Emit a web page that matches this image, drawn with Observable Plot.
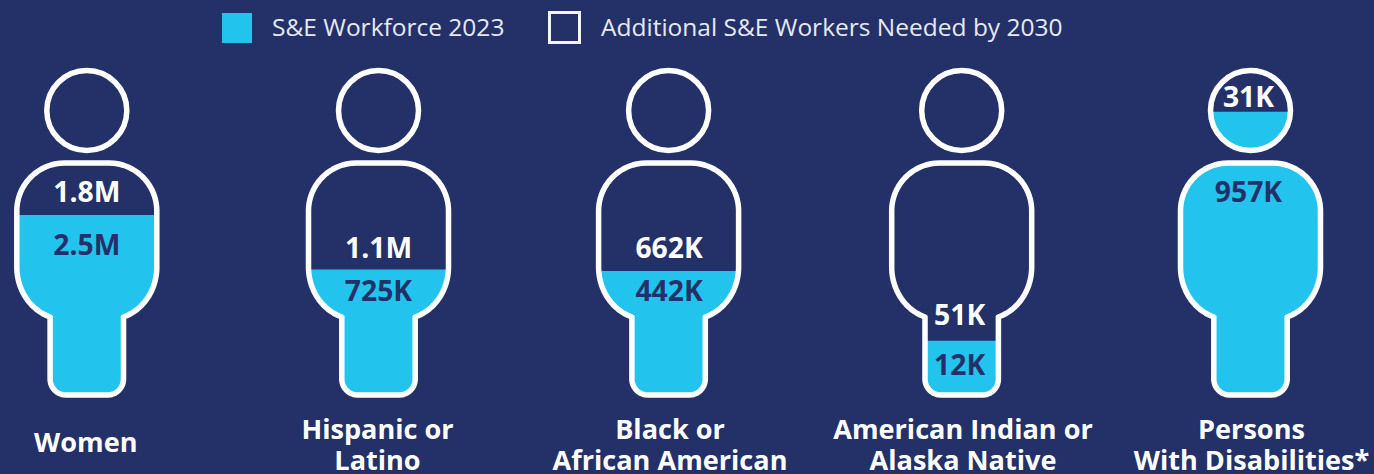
<!DOCTYPE html>
<html><head><meta charset="utf-8">
<script src="https://cdn.jsdelivr.net/npm/d3@7"></script>
<script src="https://cdn.jsdelivr.net/npm/@observablehq/plot@0.6"></script>
<style>
html,body{margin:0;padding:0;background:#243168;width:1374px;height:474px;overflow:hidden}
#legend{position:relative;height:55px;font:400 24.5px "Open Sans",sans-serif;color:#e6e9f1}
#legend .sw{position:absolute;box-sizing:border-box}
#legend .t{position:absolute;top:9px;line-height:36px;white-space:nowrap}
svg{display:block}
</style></head><body>
<div id="legend">
<div class="sw" style="left:222px;top:13px;width:30px;height:30px;background:#22c4ee"></div>
<div class="t" style="left:272px">S&amp;E Workforce 2023</div>
<div class="sw" style="left:548px;top:11px;width:33px;height:33px;border:3.5px solid #f4f5f8"></div>
<div class="t" style="left:601px">Additional S&amp;E Workers Needed by 2030</div>
</div>
<script>
const categories = ["Women","Hispanic or\nLatino","Black or\nAfrican American","American Indian or\nAlaska Native","Persons\nWith Disabilities*"];
const workforceLabels = ["2.5M","725K","442K","12K","957K"];
const additionalLabels = ["1.8M","1.1M","662K","51K","31K"];
// water level of each figure, in figure-height units from the feet
const fillLevel = [179.5,125,123.5,53.8,282.8];

// layout of the pictogram (not data)
const centre = [86.3,378,668.1,961.2,1250];
const valueDx = [0,0,0.5,-2,-2];
const additionalY = [202.5,146.5,146.5,79.5,297];
const workforceY = [149.5,103.5,103,29.5,202];
const categoryY = [-47.5,-50,-50,-50,-50];
const categoryDx = [-1,-1,1.4,1.3,1];
const headY = 284.5, headR = 40, bodyTop = 232;
const navy = "#243168", cyan = "#22c4ee";

function bodyHalf(y){
  if (y < 16) return 20.7 + Math.sqrt(Math.max(0, 256 - (16-y)*(16-y)));
  if (y < 78) return 36.7;
  if (y < 128) return 22 + 48*Math.sqrt(Math.max(0, 1 - ((128-y)/52.5)**2));
  if (y < 184) return 70;
  return 22 + Math.sqrt(Math.max(0, 2304 - (y-184)*(y-184)));
}
const headHalf = y => Math.sqrt(Math.max(0, headR*headR - (y-headY)*(y-headY)));

const outline = centre.flatMap((c,i) => {
  const ys = d3.range(0, bodyTop + 0.01, 0.25);
  const left = ys.map(y => ({i, x:c-bodyHalf(y), y}));
  const right = ys.slice().reverse().map(y => ({i, x:c+bodyHalf(y), y}));
  return [...left, ...right, left[0]];
});
const fills = centre.flatMap((c,i) => {
  const L = fillLevel[i], rows = [];
  const top = Math.min(L, bodyTop);
  for (const y of [...d3.range(0, top, 0.5), top]) rows.push({k:`b${i}`, x1:c-bodyHalf(y), x2:c+bodyHalf(y), y});
  if (L > headY-headR) {
    for (const y of [...d3.range(headY-headR, L, 0.5), L]) rows.push({k:`h${i}`, x1:c-headHalf(y), x2:c+headHalf(y), y});
  }
  return rows;
});
const rows = categories.map((name,i) => ({name, i, x:centre[i], vx:centre[i]+valueDx[i], wl:workforceLabels[i], al:additionalLabels[i],
  ay:additionalY[i], wy:workforceY[i], cy:categoryY[i], lx:centre[i]+categoryDx[i]}));

const valueText = {fontFamily:"Open Sans", fontSize:28.3, fontWeight:700, lineAnchor:"middle", textAnchor:"middle"};
const chart = Plot.plot({
  width:1374, height:419, margin:0,
  style:{background:navy, overflow:"visible"},
  x:{domain:[0,1374], axis:null},
  y:{domain:[-79.5,339.5], axis:null},
  marks:[
    Plot.areaX(fills,{x1:"x1", x2:"x2", y:"y", z:"k", fill:cyan, curve:"linear"}),
    Plot.line(outline,{x:"x", y:"y", z:"i", stroke:"#fff", strokeWidth:5.5, curve:"linear", strokeLinejoin:"round"}),
    Plot.dot(rows,{x:"x", y:()=>headY, r:headR, stroke:"#fff", strokeWidth:5.5, fill:"none"}),
    Plot.text(rows,{x:"vx", y:"ay", text:"al", fill:"#fff", ...valueText}),
    Plot.text(rows,{x:"vx", y:"wy", text:"wl", fill:navy, ...valueText}),
    Plot.text(rows,{x:"lx", y:"cy", text:"name", fill:"#fff", fontFamily:"Open Sans", fontSize:27.1, fontWeight:700, lineHeight:1.14, lineAnchor:"middle", textAnchor:"middle"})
  ]
});
document.body.appendChild(chart);
</script>
</body></html>
